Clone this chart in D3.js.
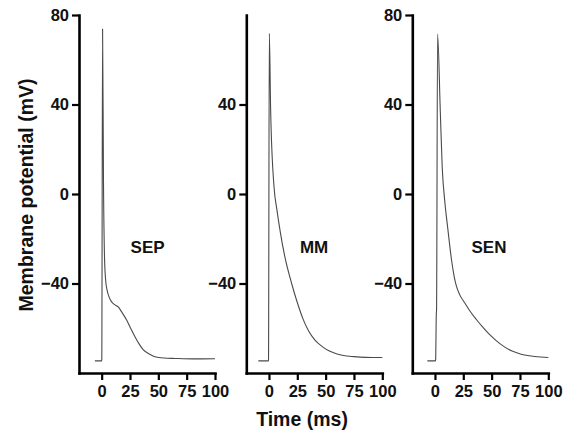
<!DOCTYPE html>
<html><head><meta charset="utf-8">
<script src="https://cdn.jsdelivr.net/npm/d3@7"></script>
<style>
body{margin:0;background:#fff;}
svg{display:block;font-family:"Liberation Sans",Arial,sans-serif;}
</style></head>
<body><svg id="c" width="564" height="440"></svg>
<script>
// Data: time (ms), membrane potential (mV)
const panels = ["SEP", "MM", "SEN"];
const xTicks = [0, 25, 50, 75, 100];
const yTicksFull = [80, 40, 0, -40];
const yTicksMM = [40, 0, -40];
const sepTime = [-6, 0, 0.1, 0.8, 1.6, 2.6, 3.5, 4.8, 6.5, 8.5, 11, 14.6, 18, 22, 26, 29.4, 33, 36.8, 42, 47, 55, 65, 80, 100];
const sepV    = [-74.6, -74.6, -74, 73.7, 6, -30, -38.4, -43, -46, -48, -49.3, -50.5, -53, -56.3, -60.5, -63.8, -67, -69.7, -71.5, -72.7, -73.3, -73.5, -73.7, -73.6];
const mmTime = [-9.4, -0.5, -0.4, 0.3, 1.5, 4.5, 7, 10, 14, 20, 25, 30, 35, 40.6, 47, 53.8, 60, 65.6, 75, 85, 100];
const mmV    = [-74.6, -74.6, -74, 71.8, 37, 3, -7, -17, -28, -40, -48.5, -55.8, -61.2, -65.3, -68.2, -70.3, -71.5, -72.2, -72.7, -73, -73.1];
const senTime = [-6.7, 0.5, 0.6, 1.2, 1.4, 2.3, 4.7, 6.4, 8.8, 11.1, 14.6, 17, 19, 22, 26.5, 31, 36.7, 42, 47, 54, 61, 68, 76, 88, 100];
const senV    = [-74.6, -74.6, -74, -53.5, -52, 71.5, 37, 12, -4, -14.5, -29.4, -37, -41.3, -45.2, -48.8, -52.4, -56.2, -59.4, -62.2, -65.5, -68.2, -70.2, -71.6, -72.6, -73.1];
const series = [
  {name: panels[0], t: sepTime, v: sepV, yt: yTicksFull},
  {name: panels[1], t: mmTime, v: mmV, yt: yTicksMM},
  {name: panels[2], t: senTime, v: senV, yt: yTicksFull}
];

const svg = d3.select("#c");
const y = d3.scaleLinear().domain([-80, 80]).range([373, 15]);
const lefts = [79, 246.3, 412.3];
const labelAt = [40.5, 39.8, 47.7];
const pw = 136;

series.forEach((s, i) => {
  const x = d3.scaleLinear().domain([-20, 100]).range([lefts[i], lefts[i] + pw]);
  const g = svg.append("g");
  const pts = s.t.map((t, k) => [t, s.v[k]]);
  g.append("path").datum(pts)
    .attr("fill", "none").attr("stroke", "#4a4a4a").attr("stroke-width", 1.1)
    .attr("stroke-linejoin", "round")
    .attr("d", d3.line().x(d => x(d[0])).y(d => y(d[1])).curve(d3.curveMonotoneX));
  const ya = g.append("g").attr("transform", `translate(${lefts[i]},0)`)
    .call(d3.axisLeft(y).tickValues(s.yt).tickSize(7).tickSizeOuter(0).tickPadding(3).tickFormat(d3.format("d")));
  const xa = g.append("g").attr("transform", `translate(0,${y(-80)})`)
    .call(d3.axisBottom(x).tickValues(xTicks).tickSize(7).tickSizeOuter(0).tickPadding(5));
  [ya, xa].forEach(a => {
    a.select(".domain").attr("stroke", "#000").attr("stroke-width", 2.6).attr("stroke-linecap", "square");
    a.selectAll(".tick line").attr("stroke", "#000").attr("stroke-width", 2.2);
    a.selectAll("text").attr("font-size", 16.5).attr("font-weight", "bold").attr("fill", "#111")
      .attr("font-family", "Liberation Sans, Arial, sans-serif");
  });
  g.append("text").attr("x", x(labelAt[i])).attr("y", 253).attr("text-anchor", "middle")
    .attr("font-size", 17).attr("font-weight", "bold").attr("fill", "#111").text(s.name);
});

svg.append("text").attr("transform", "translate(33,195) rotate(-90)")
  .attr("text-anchor", "middle").attr("font-size", 19.5).attr("font-weight", "bold").attr("fill", "#111")
  .text("Membrane potential (mV)");
svg.append("text").attr("x", 302).attr("y", 426).attr("text-anchor", "middle")
  .attr("font-size", 19.5).attr("font-weight", "bold").attr("fill", "#111")
  .text("Time (ms)");
</script></body></html>
